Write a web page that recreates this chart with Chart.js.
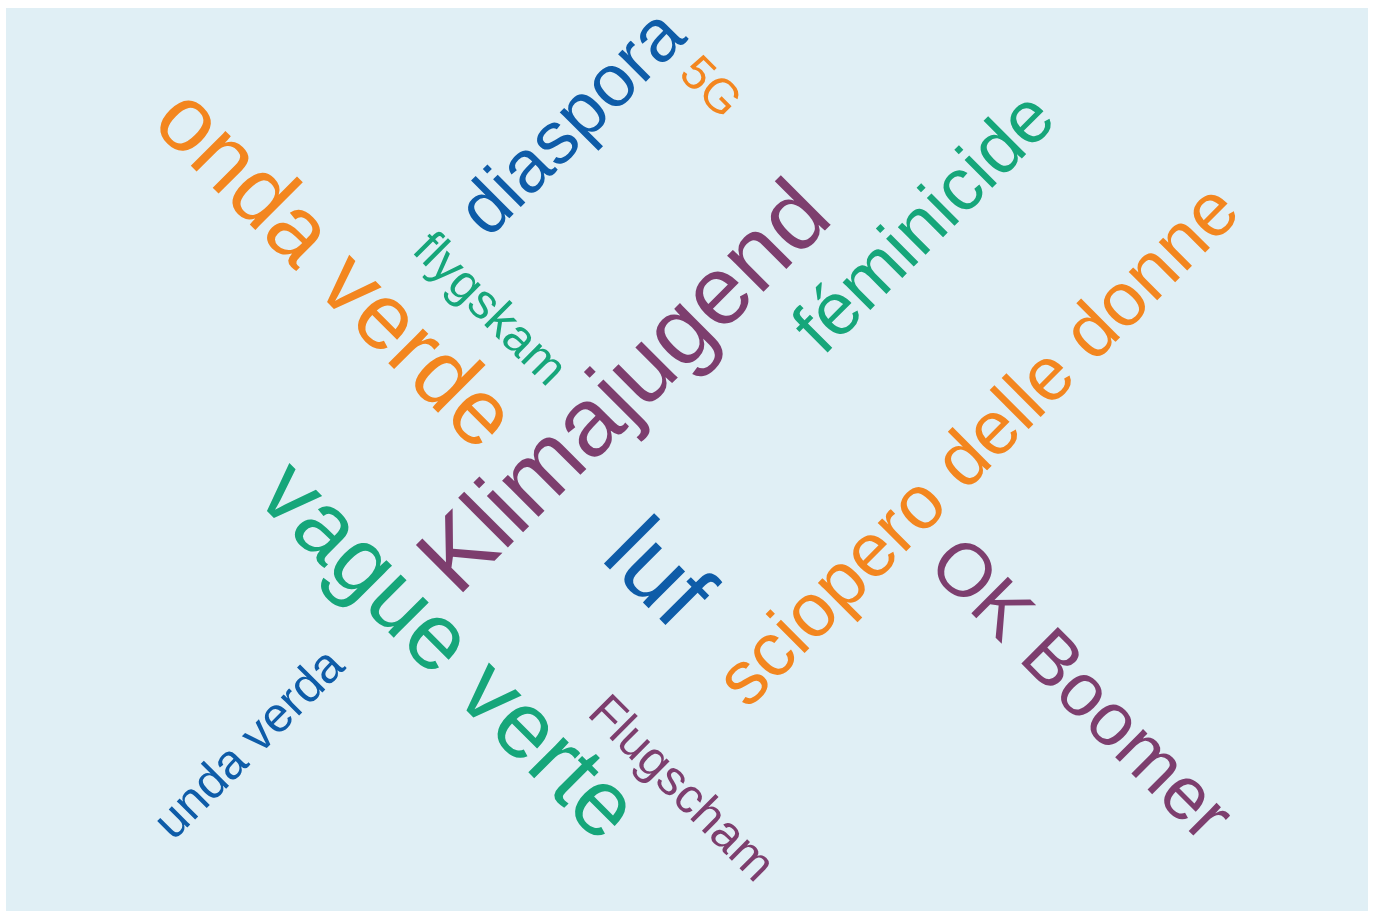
<!DOCTYPE html>
<html>
<head>
<meta charset="utf-8">
<script src="https://cdn.jsdelivr.net/npm/chart.js@4/dist/chart.umd.min.js"></script>
<style>
  html, body { margin: 0; padding: 0; background: #ffffff; }
  #wrap { width: 1375px; height: 911px; }
</style>
</head>
<body>
<div id="wrap"><canvas id="cloud"></canvas></div>
<script>
// word cloud data (centres in picture units, weight = font size)
const words = ['onda verde', 'diaspora', '5G', 'flygskam', 'Klimajugend', 'féminicide',
    'sciopero delle donne', 'OK Boomer', 'luf', 'vague verte', 'unda verda', 'Flugscham'];
const xs = [337, 576, 711, 487, 629, 921, 981, 1083, 663, 441, 249, 680];
const ys = [266, 124, 85, 310, 391, 221, 449, 689, 573, 656, 741, 791];
const weights = [93, 74, 48, 49, 97, 74, 76, 75, 98, 94, 49, 49];
const angles = [45, -45, 45, 45, -45, -45, -45, 45, 45, 45, -45, 45];
const colorKeys = ['orange', 'blue', 'orange', 'green', 'purple', 'green',
    'orange', 'purple', 'blue', 'green', 'blue', 'purple'];

const palette = { orange: '#f3861f', green: '#16a67a', purple: '#7d3e6e', blue: '#0e5ca8' };

const backdrop = {
    id: 'backdrop',
    beforeDraw(chart) {
        const ctx = chart.ctx;
        ctx.save();
        ctx.fillStyle = '#ffffff';
        ctx.fillRect(0, 0, chart.width, chart.height);
        ctx.fillStyle = '#e0eff5';
        ctx.fillRect(6, 8, 1362, chart.height - 8);
        ctx.restore();
    }
};

// draw each word rotated, centred on its point
const wordLabels = {
    id: 'wordLabels',
    afterDatasetsDraw(chart) {
        const ctx = chart.ctx;
        const meta = chart.getDatasetMeta(0);
        meta.data.forEach((pt, i) => {
            ctx.save();
            ctx.translate(pt.x, pt.y);
            ctx.rotate(angles[i] * Math.PI / 180);
            ctx.font = weights[i] + 'px "Liberation Sans", Arial, sans-serif';
            ctx.fillStyle = palette[colorKeys[i]];
            ctx.textAlign = 'left';
            ctx.textBaseline = 'alphabetic';
            const m = ctx.measureText(words[i]);
            const w = m.actualBoundingBoxLeft + m.actualBoundingBoxRight;
            const h = m.actualBoundingBoxAscent + m.actualBoundingBoxDescent;
            ctx.fillText(words[i], -w / 2 + m.actualBoundingBoxLeft, -h / 2 + m.actualBoundingBoxAscent);
            ctx.restore();
        });
    }
};

new Chart(document.getElementById('cloud'), {
    type: 'scatter',
    data: {
        datasets: [{
            data: words.map((w, i) => ({ x: xs[i], y: ys[i] })),
            pointRadius: 0,
            pointHoverRadius: 0
        }]
    },
    options: {
        responsive: true,
        maintainAspectRatio: false,
        animation: false,
        layout: { padding: 0 },
        plugins: { legend: { display: false }, tooltip: { enabled: false } },
        scales: {
            x: { type: 'linear', min: 0, max: 1375, display: false },
            y: { type: 'linear', min: 0, max: 911, reverse: true, display: false }
        }
    },
    plugins: [backdrop, wordLabels]
});
</script>
</body>
</html>
